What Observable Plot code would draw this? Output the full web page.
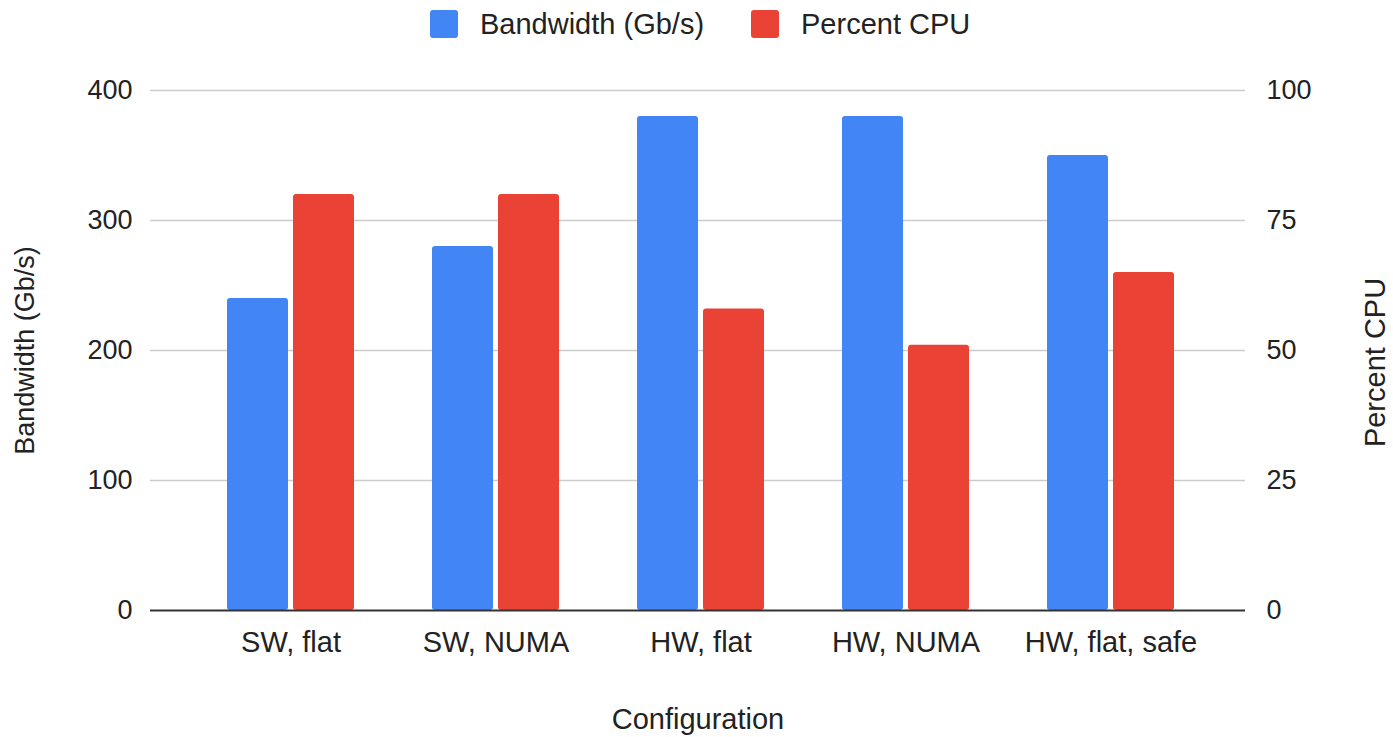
<!DOCTYPE html>
<html>
<head>
<meta charset="utf-8">
<script src="https://cdn.jsdelivr.net/npm/d3@7"></script>
<script src="https://cdn.jsdelivr.net/npm/@observablehq/plot@0.6"></script>
<style>
  html, body { margin: 0; padding: 0; background: #fff; }
  body { width: 1393px; height: 737px; overflow: hidden; font-family: "Liberation Sans", Arial, sans-serif; }
  #legend { height: 50px; position: relative; font-size: 29px; color: #222; }
  .item { position: absolute; top: 10px; display: flex; align-items: center; height: 28px; white-space: nowrap; }
  .sw { width: 28px; height: 28px; border-radius: 3px; margin-right: 22px; flex: none; }
</style>
</head>
<body>
<div id="legend"></div>
<div id="chart"></div>
<script>
const categories = ["SW, flat", "SW, NUMA", "HW, flat", "HW, NUMA", "HW, flat, safe"];
const bandwidth = [240, 280, 380, 380, 350];
const cpu = [80, 80, 58, 51, 65];
const seriesNames = ["Bandwidth (Gb/s)", "Percent CPU"];
const colors = ["#4285F4", "#EA4335"];
const leftTicks = [0, 100, 200, 300, 400];
const rightTicks = [0, 25, 50, 75, 100];
const ratio = 4; // 100% CPU == 400 Gb/s on the shared scale

const bwData = categories.map((c, i) => ({cat: c, v: bandwidth[i]}));
const cpuData = categories.map((c, i) => ({cat: c, v: cpu[i]}));

// legend
const legend = document.getElementById("legend");
const legendX = [430, 751];
seriesNames.forEach((name, i) => {
  const it = document.createElement("div");
  it.className = "item";
  it.style.left = legendX[i] + "px";
  it.innerHTML = `<div class="sw" style="background:${colors[i]}"></div><span>${name}</span>`;
  legend.appendChild(it);
});

const font = "'Liberation Sans', Arial, sans-serif";
const plot = Plot.plot({
  width: 1393,
  height: 687,
  marginTop: 40,
  marginBottom: 127,
  marginLeft: 150,
  marginRight: 148,
  style: {fontFamily: font, fontSize: "27px", color: "#222", background: "#fff"},
  x: {domain: categories, padding: 0, insetLeft: 37, insetRight: 31},
  y: {domain: [0, 400]},
  marks: [
    Plot.ruleY(leftTicks.filter(d => d > 0), {stroke: "#cccccc", strokeWidth: 1.5}),
    Plot.barY(bwData, {x: "cat", y: "v", fill: colors[0], insetLeft: 39, insetRight: 105, rx: 3}),
    Plot.barY(cpuData, {x: "cat", y: d => d.v * ratio, fill: colors[1], insetLeft: 105, insetRight: 39, rx: 3}),
    Plot.ruleY([0], {stroke: "#333", strokeWidth: 2}),
    Plot.axisX({tickSize: 0, tickPadding: 21, fontSize: 29, label: null}),
    Plot.axisY({anchor: "left", ticks: leftTicks, tickSize: 0, tickPadding: 18, fontSize: 27, label: null}),
    Plot.axisY({anchor: "right", ticks: rightTicks.map(d => d * ratio), tickFormat: d => d / ratio, tickSize: 0, tickPadding: 21, fontSize: 27, label: null}),
    Plot.text(["Configuration"], {frameAnchor: "bottom", dy: 109, fontSize: 29, lineAnchor: "middle", textAnchor: "middle", fill: "#222"}),
    Plot.text(["Bandwidth (Gb/s)"], {frameAnchor: "left", dx: -125, rotate: -90, fontSize: 27, lineAnchor: "middle", textAnchor: "middle", fill: "#222"}),
    Plot.text(["Percent CPU"], {frameAnchor: "right", dx: 130, dy: 12, rotate: -90, fontSize: 29, lineAnchor: "middle", textAnchor: "middle", fill: "#222"})
  ]
});
document.getElementById("chart").appendChild(plot);
</script>
</body>
</html>
